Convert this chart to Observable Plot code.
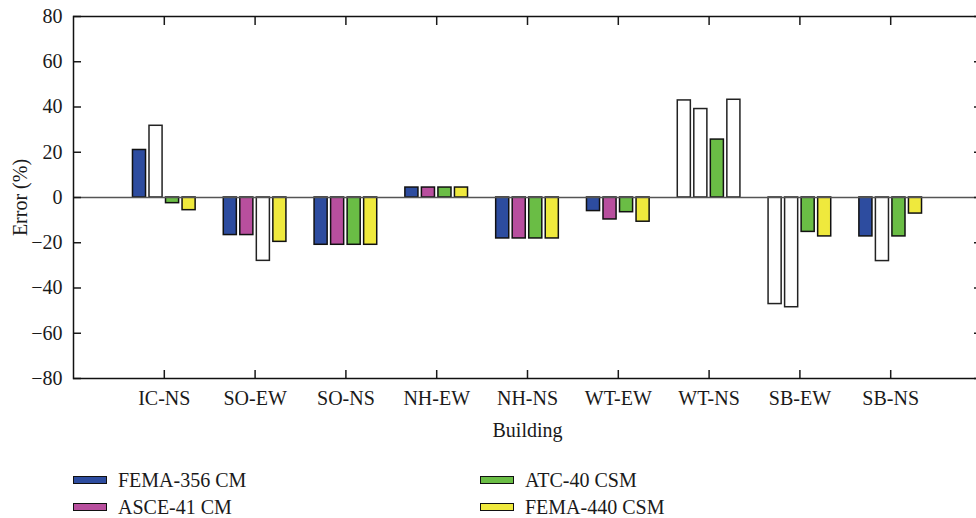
<!DOCTYPE html>
<html>
<head>
<meta charset="utf-8">
<script src="https://cdn.jsdelivr.net/npm/d3@7"></script>
<script src="https://cdn.jsdelivr.net/npm/@observablehq/plot@0.6"></script>
<style>
  html, body { margin: 0; padding: 0; background: #fff; }
  #chart { width: 976px; }
  .legend { position: relative; width: 976px; height: 68px; font-family: "Liberation Serif", "DejaVu Serif", serif; font-size: 20px; color: #1a1a1a; }
  .legend .item { position: absolute; display: flex; align-items: center; height: 24px; transform: translateY(-50%); }
  .legend .sw { width: 32px; height: 6px; border: 1.5px solid #111; margin-right: 11px; }
</style>
</head>
<body>
<div id="chart"></div>
<script>
// Buildings (load case direction) along the x axis
const buildings = ["IC-NS", "SO-EW", "SO-NS", "NH-EW", "NH-NS", "WT-EW", "WT-NS", "SB-EW", "SB-NS"];

// Nonlinear static procedures compared
const methods = ["FEMA-356 CM", "ASCE-41 CM", "ATC-40 CSM", "FEMA-440 CSM"];
const colors = ["#2d4c9f", "#b84f9e", "#6abd45", "#efe93d"];

// Error (%) of each procedure per building
const fema356 = [21.0, -16.6, -20.9, 4.4, -18.1, -6.0, 42.9, -47.1, -17.2];
const asce41  = [31.7, -16.6, -20.9, 4.4, -18.1, -9.7, 39.1, -48.5, -28.1];
const atc40   = [-2.5, -28.0, -20.9, 4.4, -18.1, -6.5, 25.6, -15.2, -17.2];
const fema440 = [-5.6, -19.6, -20.9, 4.4, -18.1, -10.7, 43.2, -17.2, -7.1];

// Results shown as open (unfilled) bars
const open356 = [0, 0, 0, 0, 0, 0, 1, 1, 0];
const open41  = [1, 0, 0, 0, 0, 0, 1, 1, 1];
const open40  = [0, 1, 0, 0, 0, 0, 0, 0, 0];
const open440 = [0, 0, 0, 0, 0, 0, 1, 0, 0];

const yTicks = [-80, -60, -40, -20, 0, 20, 40, 60, 80];

const series = [fema356, asce41, atc40, fema440];
const openFlags = [open356, open41, open40, open440];

// Long-format table: one row per bar, positioned by building index and method slot
const groupStep = 0.182;
const barHalf = 0.072;
const rows = [];
buildings.forEach((b, i) => {
  methods.forEach((m, j) => {
    const c = i + 1 + (j - 1.5) * groupStep;
    rows.push({
      building: b,
      method: m,
      value: series[j][i],
      open: openFlags[j][i] === 1,
      x1: c - barHalf,
      x2: c + barHalf
    });
  });
});
const filledRows = rows.filter(d => !d.open);
const openRows = rows.filter(d => d.open);

const fmt = d => (d < 0 ? "\u2212" + Math.abs(d) : String(d));
const font = "Liberation Serif, DejaVu Serif, serif";

const chart = Plot.plot({
  width: 976,
  height: 450,
  marginTop: 16,
  marginLeft: 73,
  marginRight: -5,
  marginBottom: 72,
  style: { fontFamily: font, fontSize: "20px", color: "#1a1a1a", background: "#fff" },
  x: { domain: [0, 10] },
  y: { domain: [-80, 80] },
  color: { domain: methods, range: colors },
  marks: [
    Plot.rectY(filledRows, {
      x1: "x1", x2: "x2", y1: 0, y2: "value",
      fill: "method", stroke: "#111", strokeWidth: 1.5
    }),
    Plot.rectY(openRows, {
      x1: "x1", x2: "x2", y1: 0, y2: "value",
      fill: "white", stroke: "#222", strokeWidth: 1.5
    }),
    Plot.ruleY([0], { stroke: "#555", strokeWidth: 1.5 }),
    // Tick labels and titles
    Plot.axisY({
      anchor: "left",
      ticks: yTicks,
      tickSize: 0,
      tickPadding: 11,
      tickFormat: fmt,
      fontSize: 20,
      label: "Error (%)",
      labelAnchor: "center",
      labelArrow: "none",
      labelOffset: 61
    }),
    Plot.axisX({
      anchor: "bottom",
      ticks: d3.range(1, 10),
      tickSize: 0,
      tickPadding: 12,
      tickFormat: i => buildings[i - 1],
      fontSize: 20,
      label: "Building",
      labelAnchor: "center",
      labelArrow: "none",
      labelOffset: 58
    }),
    // Inward tick marks on all four sides
    Plot.axisY({ anchor: "left", ticks: yTicks, tickSize: -8, fill: "none", label: null, strokeWidth: 1.5 }),
    Plot.axisY({ anchor: "right", ticks: yTicks, tickSize: -8, fill: "none", label: null, strokeWidth: 1.5 }),
    Plot.axisX({ anchor: "bottom", ticks: d3.range(1, 10), tickSize: -8, fill: "none", label: null, strokeWidth: 1.5 }),
    Plot.axisX({ anchor: "top", ticks: d3.range(1, 10), tickSize: -8, fill: "none", label: null, strokeWidth: 1.5 }),
    Plot.frame({ stroke: "#111", strokeWidth: 1.5 })
  ]
});

document.getElementById("chart").appendChild(chart);

// Legend below the plot, two columns
const legend = document.createElement("div");
legend.className = "legend";
const cols = [73, 480];
const rowsY = [30, 57];
methods.forEach((m, k) => {
  const item = document.createElement("div");
  item.className = "item";
  item.style.left = cols[Math.floor(k / 2)] + "px";
  item.style.top = rowsY[k % 2] + "px";
  const sw = document.createElement("span");
  sw.className = "sw";
  sw.style.background = colors[k];
  const label = document.createElement("span");
  label.textContent = m;
  item.appendChild(sw);
  item.appendChild(label);
  legend.appendChild(item);
});
document.body.appendChild(legend);
</script>
</body>
</html>
